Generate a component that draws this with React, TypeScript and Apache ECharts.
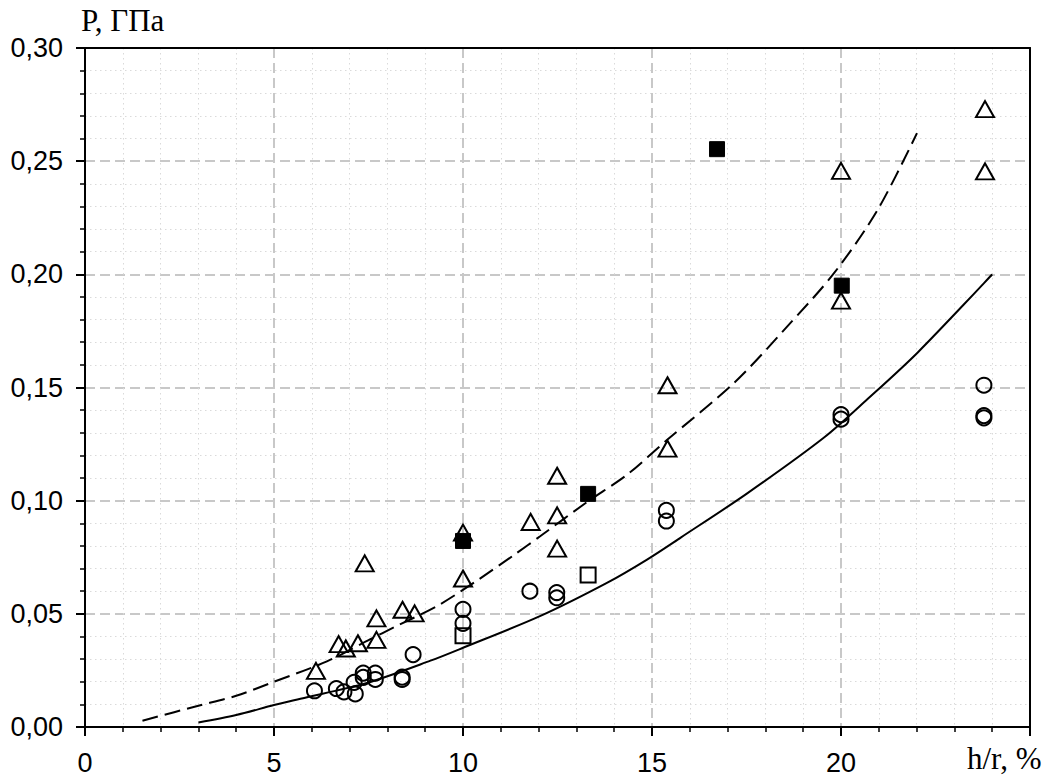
import React, { useEffect, useRef } from "react";
import * as echarts from "echarts";

// Axis ticks
const xTicks = { min: 0, max: 25, interval: 5 };
const yTicks = { min: 0, max: 0.3, interval: 0.05 };

// Open circles
const circles: [number, number][] = [
  [6.07, 0.016], [6.65, 0.017], [6.85, 0.0155], [7.15, 0.0146], [7.12, 0.0197],
  [7.36, 0.0238], [7.36, 0.0219], [7.68, 0.0238], [7.68, 0.021], [8.39, 0.022],
  [8.39, 0.021], [8.68, 0.032], [10, 0.052], [10, 0.0458], [11.77, 0.06],
  [12.48, 0.0594], [12.48, 0.0571], [15.38, 0.0957], [15.38, 0.091], [20, 0.138],
  [20, 0.136], [23.78, 0.151], [23.78, 0.1376], [23.78, 0.1366],
];

// Open triangles
const triangles: [number, number][] = [
  [6.11, 0.0248], [6.71, 0.0366], [6.9, 0.0347], [7.22, 0.037], [7.4, 0.0723],
  [7.71, 0.048], [7.71, 0.0385], [8.4, 0.0518], [8.72, 0.0502], [10, 0.0656],
  [10, 0.0859], [11.79, 0.0906], [12.49, 0.111], [12.49, 0.0935], [12.49, 0.0788],
  [15.41, 0.151], [15.41, 0.123], [20, 0.2457], [20, 0.1884], [23.81, 0.273],
  [23.81, 0.2455],
];

// Open squares
const openSquares: [number, number][] = [[10, 0.0403], [13.31, 0.0672]];

// Filled squares
const filledSquares: [number, number][] = [
  [10, 0.0822], [13.31, 0.103], [16.72, 0.2553], [20.02, 0.195],
];

// Solid curve
const solidCurve: [number, number][] = [
  [3, 0.002], [4, 0.0053], [5, 0.0097], [5.7, 0.0125], [7.46, 0.0195],
  [9.14, 0.0293], [10, 0.035], [12.05, 0.0491], [13.82, 0.0638], [14.88, 0.0741],
  [15.76, 0.0837], [17.5, 0.103], [19.56, 0.128], [20.71, 0.145], [22.03, 0.1655],
  [24.0, 0.2],
];

// Dashed curve
const dashedCurve: [number, number][] = [
  [1.52, 0.0028], [3, 0.0094], [4, 0.0138], [5, 0.02], [6.4, 0.029],
  [7.55, 0.0388], [8.17, 0.044], [9.32, 0.0535], [10.29, 0.0638], [11.35, 0.076],
  [12.05, 0.0844], [13.29, 0.0995], [14.35, 0.1116], [15.41, 0.127], [17.17, 0.152],
  [18.58, 0.177], [19.82, 0.2006], [20.97, 0.2285], [22.01, 0.2624],
];

const yAxisName = "P, ГПа";
const xAxisName = "h/r, %";

export default function App() {
  const ref = useRef<HTMLDivElement>(null);

  useEffect(() => {
    if (!ref.current) return;
    const chart = echarts.init(ref.current, null, { renderer: "svg" });

    const majorSplit = {
      show: true,
      lineStyle: { color: "#c8c8c8", width: 2, type: [10, 5] as number[] },
    };
    const minorSplit = {
      show: true,
      lineStyle: { color: "#dadada", width: 1, type: [1.5, 3.5] as number[] },
    };
    const axisLine = { show: true, onZero: false, lineStyle: { color: "#000", width: 2 } };
    const axisTick = { show: true, length: 9, lineStyle: { color: "#000", width: 2 } };
    const minorTick = { show: true, splitNumber: 5, length: 5, lineStyle: { color: "#000", width: 1.5 } };
    const labelFont = { fontFamily: "Liberation Sans, Arial, sans-serif", fontSize: 27, color: "#000" };

    const openStyle = { color: "rgba(0,0,0,0)", borderColor: "#000", borderWidth: 2, opacity: 1 };
    const serif = "'Liberation Serif', 'Times New Roman', serif";

    const borderAxis = {
      type: "value",
      axisLine,
      axisTick: { show: false },
      axisLabel: { show: false },
      splitLine: { show: false },
      minorTick: { show: false },
      minorSplitLine: { show: false },
    };

    chart.setOption({
      animation: false,
      backgroundColor: "#fff",
      grid: {
        left: 85, top: 48, right: 16, bottom: 48,
        show: false,
      },
      xAxis: [
        {
          type: "value",
          position: "bottom",
          min: xTicks.min, max: xTicks.max, interval: xTicks.interval,
          axisLine, axisTick, minorTick,
          axisLabel: {
            ...labelFont,
            margin: 22,
            formatter: (v: number) => (v === 25 ? "" : String(v)),
          },
          splitLine: majorSplit,
          minorSplitLine: minorSplit,
        },
        {
          ...borderAxis,
          position: "top",
          min: xTicks.min, max: xTicks.max, interval: xTicks.interval,
        },
      ],
      yAxis: [
        {
          type: "value",
          position: "left",
          min: yTicks.min, max: yTicks.max, interval: yTicks.interval,
          axisLine, axisTick, minorTick,
          axisLabel: {
            ...labelFont,
            margin: 22,
            formatter: (v: number) => v.toFixed(2).replace(".", ","),
          },
          splitLine: majorSplit,
          minorSplitLine: minorSplit,
        },
        {
          ...borderAxis,
          position: "right",
          min: yTicks.min, max: yTicks.max, interval: yTicks.interval,
        },
      ],
      graphic: [
        {
          type: "text", left: 81, top: 5,
          style: { text: yAxisName, font: `31px ${serif}`, fill: "#000" },
        },
        {
          type: "text", left: 967, top: 743,
          style: { text: xAxisName, font: `31px ${serif}`, fill: "#000" },
        },
      ],
      series: [
        {
          type: "line", data: solidCurve, symbol: "none", smooth: 0.3, silent: true, z: 2,
          lineStyle: { color: "#000", width: 2 },
        },
        {
          type: "line", data: dashedCurve, symbol: "none", smooth: 0.3, silent: true, z: 2,
          lineStyle: { color: "#000", width: 2, type: [16, 7] },
        },
        {
          type: "scatter", data: circles, symbol: "circle", symbolSize: 15, silent: true, z: 3,
          itemStyle: openStyle,
        },
        {
          type: "scatter", data: triangles, symbol: "triangle", symbolSize: [18, 16], silent: true, z: 3,
          itemStyle: openStyle,
        },
        {
          type: "scatter", data: openSquares, symbol: "rect", symbolSize: 15, silent: true, z: 3,
          itemStyle: openStyle,
        },
        {
          type: "scatter", data: filledSquares, symbol: "rect", symbolSize: 15, silent: true, z: 4,
          itemStyle: { color: "#000", borderColor: "#000", borderWidth: 1, opacity: 1 },
        },
      ],
    });

    return () => chart.dispose();
  }, []);

  return (
    <div
      ref={ref}
      style={{ position: "fixed", left: 0, top: 0, width: 1046, height: 776, background: "#fff" }}
    />
  );
}
